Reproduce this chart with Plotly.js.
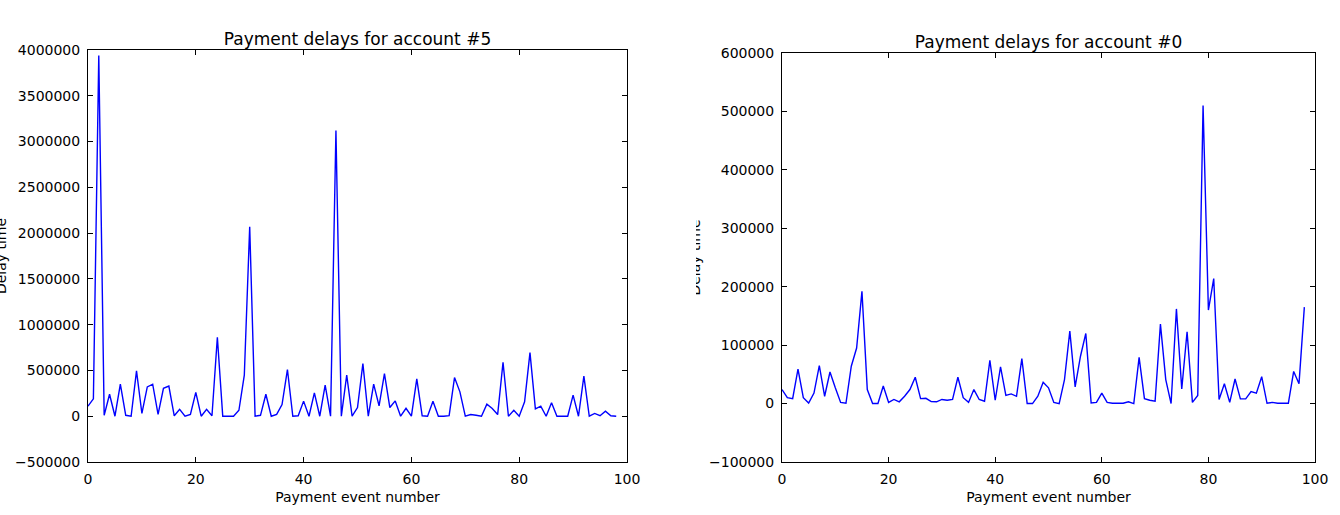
<!DOCTYPE html>
<html>
<head>
<meta charset="utf-8">
<script src="https://cdn.plot.ly/plotly-3.0.1.min.js"></script>
<style>
  html, body { margin: 0; padding: 0; background: #fff; width: 1340px; height: 515px; overflow: hidden; }
  #leftPlot { position: absolute; left: -30px; top: 0; width: 726px; height: 515px; }
  #rightWrap { position: absolute; left: 696px; top: 0; width: 644px; height: 515px; overflow: hidden; background: #fff; }
  #rightPlot { position: absolute; left: -30px; top: 0; width: 674px; height: 515px; }
</style>
</head>
<body>
<div id="leftPlot"></div>
<div id="rightWrap"><div id="rightPlot"></div></div>
<script>
// Payment delays (y values; x = payment event number 0..98, implicit index)
const titleLeft = "Payment delays for account #5";
const titleRight = "Payment delays for account #0";
const xLabel = "Payment event number";
const yLabel = "Delay time";

const delaysAccount5 = [
  110000, 190000, 3940000, 10000, 240000, 0, 350000, 10000, 0, 495000,
  30000, 320000, 350000, 20000, 305000, 330000, 5000, 75000, 0, 20000,
  260000, 0, 75000, 5000, 863000, 0, 0, 0, 65000, 448000,
  2070000, 0, 10000, 240000, 0, 20000, 127000, 510000, 0, 5000,
  165000, 0, 255000, 0, 340000, 0, 3120000, 0, 448000, 0,
  95000, 575000, 0, 350000, 113000, 466000, 95000, 167000, 0, 87000,
  0, 408000, 5000, 0, 164000, 0, 0, 7000, 422000, 266000,
  0, 18000, 10000, 0, 131000, 84000, 18000, 590000, 0, 65000,
  0, 157000, 695000, 80000, 110000, 0, 146000, 0, 0, 0,
  230000, 0, 437000, 0, 30000, 5000, 55000, 5000, 0
];

const delaysAccount0 = [
  24000, 10000, 8500, 59000, 10000, 1000, 18000, 65000, 12500, 54000,
  27000, 2000, 500, 64000, 95000, 192000, 24000, 0, 0, 30000,
  2000, 7000, 3000, 12500, 24000, 45000, 8500, 9000, 3400, 3000,
  7000, 5700, 7000, 45000, 10000, 2000, 24000, 7000, 4000, 74000,
  5700, 63000, 14000, 16500, 12500, 77000, 0, 0, 12500, 36500,
  27000, 2000, 0, 41000, 124000, 28500, 81000, 120000, 1000, 2000,
  18000, 2000, 500, 500, 500, 3000, 0, 79000, 8500, 5700,
  4000, 136000, 41000, 0, 162000, 25000, 123000, 2000, 14000, 510000,
  160000, 214000, 7000, 34000, 2000, 42000, 8000, 8000, 20500, 17700,
  46000, 500, 2000, 500, 500, 500, 55000, 34000, 165000
];

const xRange = [0, 100];
const yRangeLeft = [-500000, 4000000];
const yRangeRight = [-100000, 600000];

const FONT = "DejaVu Sans, Liberation Sans, sans-serif";

function axisCommon() {
  return {
    showgrid: false,
    zeroline: false,
    showline: true,
    linecolor: "#000",
    linewidth: 1,
    mirror: "ticks",
    ticks: "inside",
    ticklen: 5,
    tickwidth: 1,
    tickcolor: "#000",
    tickfont: { family: FONT, size: 14, color: "#000" },
    ticklabelstandoff: 4
  };
}

function makeLayout(title, yRange, dtickY, margin) {
  const xa = Object.assign(axisCommon(), {
    range: xRange, dtick: 20, tick0: 0,
    title: { text: xLabel, font: { family: FONT, size: 14, color: "#000" }, standoff: 6 },
    automargin: false
  });
  const ya = Object.assign(axisCommon(), {
    range: yRange, dtick: dtickY, tick0: 0, tickformat: "d",
    title: { text: yLabel, font: { family: FONT, size: 14, color: "#000" }, standoff: 5 },
    automargin: false
  });
  return {
    title: {
      text: title,
      font: { family: FONT, size: 17, color: "#000" },
      x: 0.5, xref: "paper", xanchor: "center",
      y: 1, yref: "paper", yanchor: "bottom",
      pad: { b: 5 }
    },
    showlegend: false,
    paper_bgcolor: "#fff",
    plot_bgcolor: "#fff",
    margin: margin,
    xaxis: xa,
    yaxis: ya,
    font: { family: FONT, size: 14, color: "#000" }
  };
}

const lineStyle = { color: "#0000ff", width: 1.4 };

Plotly.newPlot("leftPlot", [{
  y: delaysAccount5, type: "scatter", mode: "lines", line: lineStyle, hoverinfo: "skip"
}], makeLayout(titleLeft, yRangeLeft, 500000, { l: 118, r: 69, t: 50, b: 53 }),
{ staticPlot: true, displayModeBar: false });

Plotly.newPlot("rightPlot", [{
  y: delaysAccount0, type: "scatter", mode: "lines", line: lineStyle, hoverinfo: "skip"
}], makeLayout(titleRight, yRangeRight, 100000, { l: 116, r: 25, t: 53, b: 53 }),
{ staticPlot: true, displayModeBar: false });
</script>
</body>
</html>
